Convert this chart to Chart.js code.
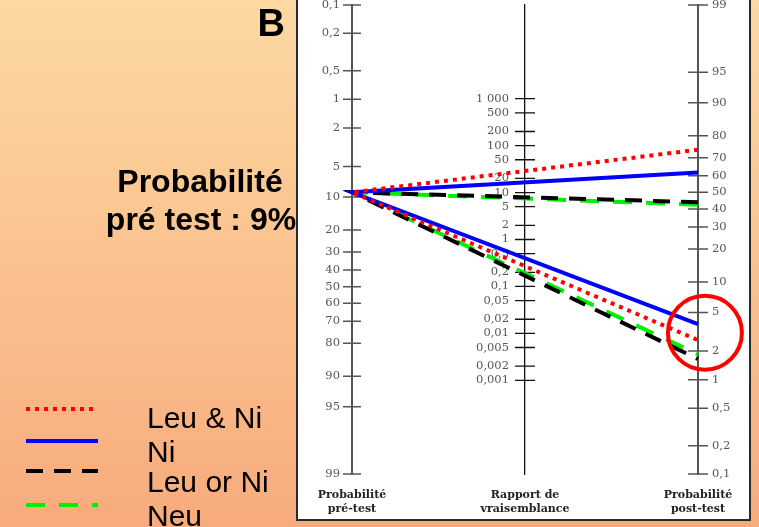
<!DOCTYPE html>
<html><head><meta charset="utf-8">
<script src="https://cdn.jsdelivr.net/npm/chart.js@4.4.1/dist/chart.umd.min.js"></script>
<style>html,body{margin:0;padding:0;background:#fff;overflow:hidden}canvas{display:block}</style>
</head><body>
<canvas id="c" width="759" height="527"></canvas>
<script>
// ---------------- data ----------------
const seriesNames = ['Leu & Ni', 'Ni', 'Leu or Ni', 'Neu'];
const preTestProbability = 9;                    // %
const postTestPositive = [74, 62, 44, 42.5];     // % (upper lines)
const postTestNegative = [2.6, 3.8, 1.65, 1.85]; // % (lower lines)
const highlightedPostTest = [3.1];               // % (circled zone)
const preTickValues = [0.1, 0.2, 0.5, 1, 2, 5, 10, 20, 30, 40, 50, 60, 70, 80, 90, 95, 99];
const lrTickValues = [1000, 500, 200, 100, 50, 20, 10, 5, 2, 1, 0.5, 0.2, 0.1, 0.05, 0.02, 0.01, 0.005, 0.002, 0.001];
const postTickValues = [99, 95, 90, 80, 70, 60, 50, 40, 30, 20, 10, 5, 2, 1, 0.5, 0.2, 0.1];
const axisTitles = [['Probabilité', 'pré-test'], ['Rapport de', 'vraisemblance'], ['Probabilité', 'post-test']];
const panelLetter = 'B';
const titleLines = ['Probabilité', 'pré test : ' + preTestProbability + '%'];

// ---------------- styles ----------------
const seriesStyles = [
  { color: '#ff0000', dash: [4, 5] },
  { color: '#0000ff', dash: [] },
  { color: '#000000', dash: [17, 11] },
  { color: '#00ee00', dash: [19, 14] }
];

const logit = p => Math.log(p / (100 - p));
const fmt = v => {
  if (v >= 1000) return String(v).replace(/\B(?=(\d{3})+(?!\d))/g, ' ');
  return String(v).replace('.', ',');
};
const L0 = logit(0.1), L1 = logit(99);

const tickFont = { family: '"DejaVu Serif", serif', size: 11.5 };
const tickColor = '#555';

const datasets = seriesNames.map((name, i) => ({
  type: 'scatter', label: name, yAxisID: 'yPre', showLine: true, data: [],
  borderColor: seriesStyles[i].color, backgroundColor: seriesStyles[i].color,
  borderWidth: 4, borderDash: seriesStyles[i].dash, borderCapStyle: 'butt',
  pointRadius: 0, clip: false, order: i
}));
datasets.push({
  type: 'scatter', label: '', yAxisID: 'yPost',
  data: highlightedPostTest.map(p => ({ x: 1.02, y: logit(p) })),
  pointRadius: 37, pointBorderWidth: 4, pointBorderColor: '#ff0000',
  pointBackgroundColor: 'rgba(0,0,0,0)', clip: false, order: -1
});

const zeroPad = s => { s.paddingTop = 0; s.paddingBottom = 0; s.paddingLeft = 0; s.paddingRight = 0; };

const decor = {
  id: 'decor',
  beforeDraw(chart) {
    const { ctx, width, height } = chart;
    ctx.save();
    const g = ctx.createLinearGradient(0, 0, 0, height);
    g.addColorStop(0, '#fcd9a1');
    g.addColorStop(1, '#f8ab7d');
    ctx.fillStyle = g;
    ctx.fillRect(0, 0, width, height);
    ctx.fillStyle = '#ffffff';
    ctx.fillRect(297, -5, 453, 525);
    ctx.strokeStyle = '#2a2a2a';
    ctx.lineWidth = 2;
    ctx.strokeRect(297, -5, 453, 525);
    ctx.restore();
  },
  beforeDatasetsDraw(chart) {
    const { ctx, chartArea: ca, scales } = chart;
    const specs = [
      ['yPre', ca.left, '#555', 1.5, 9],
      ['yLR', (ca.left + ca.right) / 2, '#111', 1.3, 10],
      ['yPost', ca.right, '#555', 1.5, 10]
    ];
    ctx.save();
    specs.forEach(([id, x, col, w, len]) => {
      const s = scales[id];
      ctx.strokeStyle = col; ctx.lineWidth = w;
      ctx.beginPath();
      s.ticks.forEach(t => {
        const y = s.getPixelForValue(t.value);
        ctx.moveTo(x - len, y); ctx.lineTo(x + len, y);
      });
      ctx.stroke();
    });
    ctx.restore();
  },
  afterDraw(chart) {
    const { ctx } = chart;
    ctx.save();
    ctx.fillStyle = '#000';
    ctx.font = 'bold 38px "Liberation Sans", Arial, sans-serif';
    ctx.textAlign = 'right'; ctx.textBaseline = 'alphabetic';
    ctx.fillText(panelLetter, 285, 36);
    ctx.font = 'bold 32px "Liberation Sans", Arial, sans-serif';
    ctx.textAlign = 'center';
    ctx.fillText(titleLines[0], 200, 192);
    ctx.fillText(titleLines[1], 201, 230);
    // legend
    const lineYs = [409, 441, 471, 505];
    const textYs = [428, 462, 492, 526];
    ctx.font = '30px "Liberation Sans", Arial, sans-serif';
    ctx.textAlign = 'left';
    chart.data.datasets.slice(0, seriesNames.length).forEach((ds, i) => {
      ctx.strokeStyle = ds.borderColor;
      ctx.lineWidth = 4;
      ctx.lineCap = 'butt';
      ctx.setLineDash(ds.borderDash);
      ctx.beginPath();
      ctx.moveTo(26, lineYs[i]); ctx.lineTo(98, lineYs[i]);
      ctx.stroke();
      ctx.setLineDash([]);
      ctx.fillStyle = '#000';
      ctx.fillText(ds.label, 147, textYs[i]);
    });
    ctx.restore();
  }
};

const chart = new Chart(document.getElementById('c'), {
  data: { datasets },
  options: {
    responsive: false, animation: false, events: [],
    layout: { autoPadding: false, padding: { left: 292, right: 11, top: 5, bottom: 13 } },
    plugins: { legend: { display: false }, tooltip: { enabled: false } },
    scales: {
      x: {
        type: 'linear', min: 0, max: 1, position: 'bottom',
        afterFit: s => { s.height = 40; zeroPad(s); },
        afterBuildTicks: s => { s.ticks = axisTitles.map((t, i) => ({ value: i / 2 })); },
        ticks: {
          callback: (v, i) => axisTitles[i], autoSkip: false, maxRotation: 0,
          font: { family: '"DejaVu Serif", serif', size: 11, weight: 'bold', lineHeight: 1.3 },
          color: '#222', padding: 6
        },
        grid: { display: false }, border: { display: false }
      },
      yPre: {
        type: 'linear', position: 'left', reverse: true, min: L0, max: L1,
        afterFit: s => { s.width = 60; zeroPad(s); },
        afterBuildTicks: s => { s.ticks = preTickValues.map(p => ({ value: logit(p) })); },
        ticks: { callback: (v, i) => fmt(preTickValues[i]), autoSkip: false, font: tickFont, color: tickColor, padding: 12 },
        grid: { display: true, drawOnChartArea: false, drawTicks: false },
        border: { display: true, color: '#555', width: 2 }
      },
      yLR: {
        type: 'linear', position: 'center', min: -(L1 - L0), max: (L1 - L0),
        afterFit: s => { zeroPad(s); },
        afterBuildTicks: s => { s.ticks = lrTickValues.map(r => ({ value: Math.log(r) })); },
        ticks: { callback: (v, i) => fmt(lrTickValues[i]), autoSkip: false, font: tickFont, color: tickColor, padding: 16 },
        grid: { display: true, drawOnChartArea: false, drawTicks: false },
        border: { display: true, color: '#111', width: 1.3 }
      },
      yPost: {
        type: 'linear', position: 'right', min: L0, max: L1,
        afterFit: s => { s.width = 50; zeroPad(s); },
        afterBuildTicks: s => { s.ticks = postTickValues.map(p => ({ value: logit(p) })); },
        ticks: { callback: (v, i) => fmt(postTickValues[i]), autoSkip: false, font: tickFont, color: tickColor, padding: 14 },
        grid: { display: true, drawOnChartArea: false, drawTicks: false },
        border: { display: true, color: '#555', width: 2 }
      }
    }
  },
  plugins: [decor]
});

// place the lines: left point on the pre-test scale, right points on the post-test scale
const yPre = chart.scales.yPre, yPost = chart.scales.yPost;
const toPreUnits = p => yPre.getValueForPixel(yPost.getPixelForValue(logit(p)));
seriesNames.forEach((n, i) => {
  chart.data.datasets[i].data = [
    { x: 1, y: toPreUnits(postTestPositive[i]) },
    { x: 0, y: logit(preTestProbability) },
    { x: 1, y: toPreUnits(postTestNegative[i]) }
  ];
});
chart.update('none');
</script>
</body></html>
